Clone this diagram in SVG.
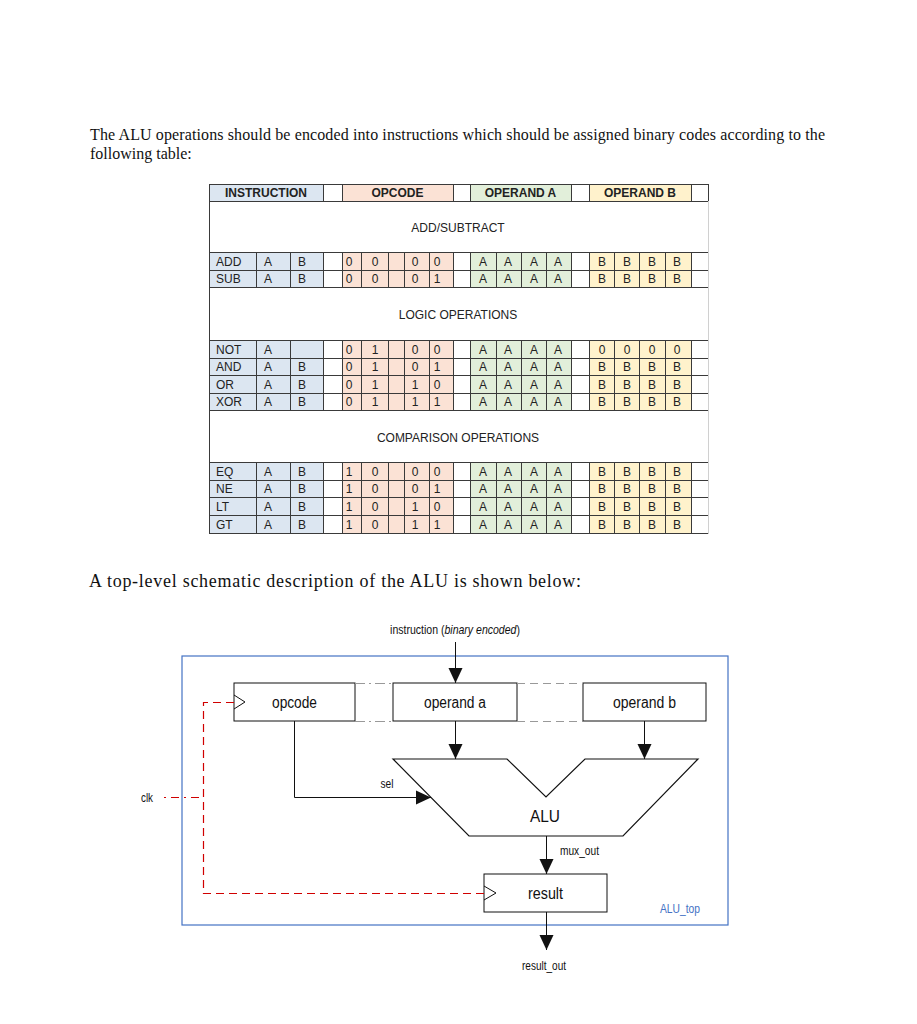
<svg xmlns="http://www.w3.org/2000/svg" width="917" height="1024" viewBox="0 0 917 1024">
<style>
.para{font-family:"Liberation Serif","Times New Roman",serif;font-size:16px;fill:#111}
.th{font-family:"Liberation Sans",Arial,sans-serif;font-size:12px;font-weight:bold;fill:#222;text-anchor:middle}
.td{font-family:"Liberation Sans",Arial,sans-serif;font-size:12px;fill:#222;text-anchor:middle}
.tl{font-family:"Liberation Sans",Arial,sans-serif;font-size:12px;fill:#222}
.sec{font-family:"Liberation Sans",Arial,sans-serif;font-size:12px;fill:#222;text-anchor:middle}
.grid{stroke:#3a3a3a;stroke-width:1;fill:none}
.ins{fill:#dce6f1}.opc{fill:#fbe2d5}.opa{fill:#e2efda}.opb{fill:#fff2cc}
.nar{font-family:"Liberation Sans",Arial,sans-serif;fill:#111}
.box{fill:#fff;stroke:#111;stroke-width:1}
.wire{stroke:#111;stroke-width:1;fill:none}
.clkw{stroke:#d00000;stroke-width:1.2;fill:none;stroke-dasharray:8 5}
</style>
<defs>
<marker id="arr" markerUnits="userSpaceOnUse" markerWidth="16" markerHeight="16" viewBox="0 0 16 16" refX="15" refY="8" orient="auto">
<path d="M0,1 L15,8 L0,15 Z" fill="#111"/>
</marker>
</defs>
<rect width="917" height="1024" fill="#fff"/>

<g id="paragraphs">
<text class="para" x="90" y="140" textLength="735">The ALU operations should be encoded into instructions which should be assigned binary codes according to the</text>
<text class="para" x="90" y="159">following table:</text>
<text class="para" x="89" y="587" style="font-size:18px" textLength="492">A top-level schematic description of the ALU is shown below:</text>
</g>

<g id="table">
<rect class="ins" x="209" y="184" width="114" height="17"/>
<rect class="opc" x="342" y="184" width="111" height="17"/>
<rect class="opa" x="470" y="184" width="101" height="17"/>
<rect class="opb" x="589" y="184" width="102" height="17"/>
<g id="fills">
<rect class="ins" x="209" y="252" width="114" height="35"/>
<rect class="opc" x="342" y="252" width="111" height="35"/>
<rect class="opa" x="470" y="252" width="101" height="35"/>
<rect class="opb" x="589" y="252" width="102" height="35"/>
<rect class="ins" x="209" y="340" width="114" height="70"/>
<rect class="opc" x="342" y="340" width="111" height="70"/>
<rect class="opa" x="470" y="340" width="101" height="70"/>
<rect class="opb" x="589" y="340" width="102" height="70"/>
<rect class="ins" x="209" y="462" width="114" height="71"/>
<rect class="opc" x="342" y="462" width="111" height="71"/>
<rect class="opa" x="470" y="462" width="101" height="71"/>
<rect class="opb" x="589" y="462" width="102" height="71"/>
</g>
<path class="grid" d="M209,184.5H708 M209,201.5H708 M209,252.5H708 M209,270.5H708 M209,287.5H708 M209,340.5H708 M209,358.5H708 M209,375.5H708 M209,393.5H708 M209,410.5H708 M209,462.5H708 M209,480.5H708 M209,497.5H708 M209,515.5H708 M209,533.5H708"/>
<path class="grid" d="M209.5,184V534"/>
<path d="M708.5,184V534" stroke="#d0d0d0" stroke-width="1"/>
<path class="grid" d="M323.5,184V201 M342.5,184V201 M453.5,184V201 M470.5,184V201 M571.5,184V201 M589.5,184V201 M691.5,184V201 M708.5,184V201"/>
<path class="grid" d="M256.5,252V287 M290.5,252V287 M323.5,252V287 M342.5,252V287 M361.5,252V287 M388.5,252V287 M404.5,252V287 M429.5,252V287 M453.5,252V287 M470.5,252V287 M496.5,252V287 M521.5,252V287 M546.5,252V287 M571.5,252V287 M589.5,252V287 M614.5,252V287 M639.5,252V287 M665.5,252V287 M691.5,252V287"/>
<path class="grid" d="M256.5,340V410 M290.5,340V410 M323.5,340V410 M342.5,340V410 M361.5,340V410 M388.5,340V410 M404.5,340V410 M429.5,340V410 M453.5,340V410 M470.5,340V410 M496.5,340V410 M521.5,340V410 M546.5,340V410 M571.5,340V410 M589.5,340V410 M614.5,340V410 M639.5,340V410 M665.5,340V410 M691.5,340V410"/>
<path class="grid" d="M256.5,462V533 M290.5,462V533 M323.5,462V533 M342.5,462V533 M361.5,462V533 M388.5,462V533 M404.5,462V533 M429.5,462V533 M453.5,462V533 M470.5,462V533 M496.5,462V533 M521.5,462V533 M546.5,462V533 M571.5,462V533 M589.5,462V533 M614.5,462V533 M639.5,462V533 M665.5,462V533 M691.5,462V533"/>

<text class="th" x="266" y="197">INSTRUCTION</text>
<text class="th" x="397.5" y="197">OPCODE</text>
<text class="th" x="520.5" y="197">OPERAND A</text>
<text class="th" x="640" y="197">OPERAND B</text>

<text class="sec" x="458" y="232">ADD/SUBTRACT</text>
<text class="sec" x="458" y="319">LOGIC OPERATIONS</text>
<text class="sec" x="458" y="442">COMPARISON OPERATIONS</text>

<text class="tl" x="216" y="266">ADD</text><text class="td" x="268" y="266">A</text><text class="td" x="302" y="266">B</text>
<text class="td" x="349" y="266">0</text><text class="td" x="375" y="266">0</text><text class="td" x="415" y="266">0</text><text class="td" x="437" y="266">0</text>
<text class="td" x="483" y="266">A</text><text class="td" x="508" y="266">A</text><text class="td" x="534" y="266">A</text><text class="td" x="558" y="266">A</text>
<text class="td" x="602" y="266">B</text><text class="td" x="627" y="266">B</text><text class="td" x="652" y="266">B</text><text class="td" x="677" y="266">B</text>

<text class="tl" x="216" y="283">SUB</text><text class="td" x="268" y="283">A</text><text class="td" x="302" y="283">B</text>
<text class="td" x="349" y="283">0</text><text class="td" x="375" y="283">0</text><text class="td" x="415" y="283">0</text><text class="td" x="437" y="283">1</text>
<text class="td" x="483" y="283">A</text><text class="td" x="508" y="283">A</text><text class="td" x="534" y="283">A</text><text class="td" x="558" y="283">A</text>
<text class="td" x="602" y="283">B</text><text class="td" x="627" y="283">B</text><text class="td" x="652" y="283">B</text><text class="td" x="677" y="283">B</text>

<text class="tl" x="216" y="354">NOT</text><text class="td" x="268" y="354">A</text>
<text class="td" x="349" y="354">0</text><text class="td" x="375" y="354">1</text><text class="td" x="415" y="354">0</text><text class="td" x="437" y="354">0</text>
<text class="td" x="483" y="354">A</text><text class="td" x="508" y="354">A</text><text class="td" x="534" y="354">A</text><text class="td" x="558" y="354">A</text>
<text class="td" x="602" y="354">0</text><text class="td" x="627" y="354">0</text><text class="td" x="652" y="354">0</text><text class="td" x="677" y="354">0</text>

<text class="tl" x="216" y="371">AND</text><text class="td" x="268" y="371">A</text><text class="td" x="302" y="371">B</text>
<text class="td" x="349" y="371">0</text><text class="td" x="375" y="371">1</text><text class="td" x="415" y="371">0</text><text class="td" x="437" y="371">1</text>
<text class="td" x="483" y="371">A</text><text class="td" x="508" y="371">A</text><text class="td" x="534" y="371">A</text><text class="td" x="558" y="371">A</text>
<text class="td" x="602" y="371">B</text><text class="td" x="627" y="371">B</text><text class="td" x="652" y="371">B</text><text class="td" x="677" y="371">B</text>

<text class="tl" x="216" y="389">OR</text><text class="td" x="268" y="389">A</text><text class="td" x="302" y="389">B</text>
<text class="td" x="349" y="389">0</text><text class="td" x="375" y="389">1</text><text class="td" x="415" y="389">1</text><text class="td" x="437" y="389">0</text>
<text class="td" x="483" y="389">A</text><text class="td" x="508" y="389">A</text><text class="td" x="534" y="389">A</text><text class="td" x="558" y="389">A</text>
<text class="td" x="602" y="389">B</text><text class="td" x="627" y="389">B</text><text class="td" x="652" y="389">B</text><text class="td" x="677" y="389">B</text>

<text class="tl" x="216" y="406">XOR</text><text class="td" x="268" y="406">A</text><text class="td" x="302" y="406">B</text>
<text class="td" x="349" y="406">0</text><text class="td" x="375" y="406">1</text><text class="td" x="415" y="406">1</text><text class="td" x="437" y="406">1</text>
<text class="td" x="483" y="406">A</text><text class="td" x="508" y="406">A</text><text class="td" x="534" y="406">A</text><text class="td" x="558" y="406">A</text>
<text class="td" x="602" y="406">B</text><text class="td" x="627" y="406">B</text><text class="td" x="652" y="406">B</text><text class="td" x="677" y="406">B</text>

<text class="tl" x="216" y="476">EQ</text><text class="td" x="268" y="476">A</text><text class="td" x="302" y="476">B</text>
<text class="td" x="349" y="476">1</text><text class="td" x="375" y="476">0</text><text class="td" x="415" y="476">0</text><text class="td" x="437" y="476">0</text>
<text class="td" x="483" y="476">A</text><text class="td" x="508" y="476">A</text><text class="td" x="534" y="476">A</text><text class="td" x="558" y="476">A</text>
<text class="td" x="602" y="476">B</text><text class="td" x="627" y="476">B</text><text class="td" x="652" y="476">B</text><text class="td" x="677" y="476">B</text>

<text class="tl" x="216" y="493">NE</text><text class="td" x="268" y="493">A</text><text class="td" x="302" y="493">B</text>
<text class="td" x="349" y="493">1</text><text class="td" x="375" y="493">0</text><text class="td" x="415" y="493">0</text><text class="td" x="437" y="493">1</text>
<text class="td" x="483" y="493">A</text><text class="td" x="508" y="493">A</text><text class="td" x="534" y="493">A</text><text class="td" x="558" y="493">A</text>
<text class="td" x="602" y="493">B</text><text class="td" x="627" y="493">B</text><text class="td" x="652" y="493">B</text><text class="td" x="677" y="493">B</text>

<text class="tl" x="216" y="511">LT</text><text class="td" x="268" y="511">A</text><text class="td" x="302" y="511">B</text>
<text class="td" x="349" y="511">1</text><text class="td" x="375" y="511">0</text><text class="td" x="415" y="511">1</text><text class="td" x="437" y="511">0</text>
<text class="td" x="483" y="511">A</text><text class="td" x="508" y="511">A</text><text class="td" x="534" y="511">A</text><text class="td" x="558" y="511">A</text>
<text class="td" x="602" y="511">B</text><text class="td" x="627" y="511">B</text><text class="td" x="652" y="511">B</text><text class="td" x="677" y="511">B</text>

<text class="tl" x="216" y="529">GT</text><text class="td" x="268" y="529">A</text><text class="td" x="302" y="529">B</text>
<text class="td" x="349" y="529">1</text><text class="td" x="375" y="529">0</text><text class="td" x="415" y="529">1</text><text class="td" x="437" y="529">1</text>
<text class="td" x="483" y="529">A</text><text class="td" x="508" y="529">A</text><text class="td" x="534" y="529">A</text><text class="td" x="558" y="529">A</text>
<text class="td" x="602" y="529">B</text><text class="td" x="627" y="529">B</text><text class="td" x="652" y="529">B</text><text class="td" x="677" y="529">B</text>
</g>

<g id="alu_top">
<rect x="182" y="656" width="546" height="269" fill="none" stroke="#4472c4" stroke-width="1.2"/>
<text x="660" y="913" font-family="Liberation Sans,Arial,sans-serif" font-size="13" fill="#4472c4" textLength="40" lengthAdjust="spacingAndGlyphs">ALU_top</text>
</g>

<g id="opcode">
<rect class="box" x="234" y="683" width="121" height="38"/>
<polyline points="234,695 245,702 234,709" fill="none" stroke="#111" stroke-width="1"/>
<text class="nar" x="294.5" y="708" font-size="16" text-anchor="middle" textLength="45" lengthAdjust="spacingAndGlyphs">opcode</text>
</g>
<g id="operand_a">
<rect class="box" x="393" y="683" width="124" height="38"/>
<text class="nar" x="455" y="708" font-size="16" text-anchor="middle" textLength="62" lengthAdjust="spacingAndGlyphs">operand a</text>
</g>
<g id="operand_b">
<rect class="box" x="583" y="683" width="123" height="38"/>
<text class="nar" x="644.5" y="708" font-size="16" text-anchor="middle" textLength="63" lengthAdjust="spacingAndGlyphs">operand b</text>
</g>
<g id="alu">
<polygon points="393,759 507,759 546,797 585,759 698,759 623,836 469,836" fill="#fff" stroke="#111" stroke-width="1.2"/>
<text x="545" y="822" font-family="Liberation Sans,Arial,sans-serif" font-size="16" text-anchor="middle" fill="#111" textLength="30" lengthAdjust="spacingAndGlyphs">ALU</text>
</g>
<g id="result">
<rect class="box" x="484" y="874" width="123" height="38"/>
<polyline points="484,886 496,893 484,900" fill="none" stroke="#111" stroke-width="1"/>
<text class="nar" x="545.5" y="899" font-size="16" text-anchor="middle" textLength="35" lengthAdjust="spacingAndGlyphs">result</text>
</g>

<g id="connectors">
<path d="M355,683.5H393 M355,721.5H393" stroke="#999" stroke-width="1" stroke-dasharray="10 4 2 4"/>
<path d="M517,683.5H583 M517,721.5H583" stroke="#999" stroke-width="1" stroke-dasharray="8 5"/>
<path class="wire" d="M455.5,642V683" marker-end="url(#arr)"/>
<path class="wire" d="M455.5,721V759" marker-end="url(#arr)"/>
<path class="wire" d="M644.5,721V759" marker-end="url(#arr)"/>
<path class="wire" d="M294.5,721V797.5H431" marker-end="url(#arr)"/>
<path class="wire" d="M546.5,836V874" marker-end="url(#arr)"/>
<path class="wire" d="M546.5,912V950" marker-end="url(#arr)"/>
<path d="M164,797.5H203" stroke="#d00000" stroke-width="1.2" stroke-dasharray="2 5 8 5"/>
<path class="clkw" d="M234,702.5H203.5V893.5H484"/>
</g>

<g id="labels">
<text class="nar" transform="translate(455,634) scale(0.81,1)" x="0" y="0" font-size="13" text-anchor="middle">instruction (<tspan font-style="italic">binary encoded</tspan>)</text>
<text class="nar" x="387" y="788" font-size="13" text-anchor="middle" textLength="13" lengthAdjust="spacingAndGlyphs">sel</text>
<text class="nar" x="560" y="855" font-size="12" textLength="39" lengthAdjust="spacingAndGlyphs">mux_out</text>
<text class="nar" x="544" y="970" font-size="12" text-anchor="middle" textLength="44" lengthAdjust="spacingAndGlyphs">result_out</text>
<text class="nar" x="141" y="802" font-size="13" textLength="12" lengthAdjust="spacingAndGlyphs">clk</text>
</g>
</svg>
